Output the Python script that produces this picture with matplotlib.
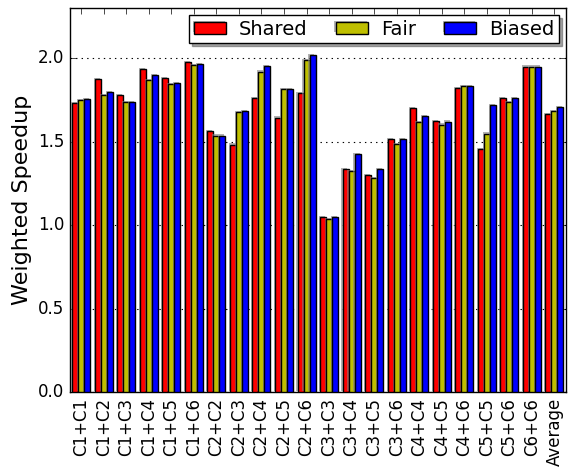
import matplotlib
matplotlib.use("Agg")
import matplotlib.pyplot as plt
import matplotlib.patheffects as pe
import numpy as np

categories = ["C1+C1", "C1+C2", "C1+C3", "C1+C4", "C1+C5", "C1+C6",
              "C2+C2", "C2+C3", "C2+C4", "C2+C5", "C2+C6",
              "C3+C3", "C3+C4", "C3+C5", "C3+C6",
              "C4+C4", "C4+C5", "C4+C6",
              "C5+C5", "C5+C6", "C6+C6", "Average"]
shared = [1.731, 1.877, 1.777, 1.934, 1.883, 1.976, 1.562, 1.482, 1.761, 1.644, 1.789,
          1.048, 1.333, 1.299, 1.516, 1.699, 1.624, 1.821, 1.454, 1.759, 1.949, 1.664]
fair = [1.747, 1.781, 1.739, 1.867, 1.843, 1.958, 1.536, 1.675, 1.919, 1.813, 1.986,
        1.036, 1.323, 1.281, 1.484, 1.618, 1.602, 1.831, 1.548, 1.735, 1.949, 1.681]
biased = [1.757, 1.795, 1.739, 1.901, 1.849, 1.962, 1.536, 1.683, 1.952, 1.817, 2.016,
          1.048, 1.423, 1.337, 1.514, 1.652, 1.620, 1.831, 1.717, 1.763, 1.949, 1.707]
series = [("Shared", shared, "r"), ("Fair", fair, (0.75, 0.75, 0)), ("Biased", biased, "b")]

plt.style.use("classic")
fig = plt.figure(figsize=(5.68, 4.68), dpi=100)
ax = fig.add_axes([0.123, 0.162, 0.873, 0.821])

x = np.arange(len(categories))
w = 0.8 / 3
shadow = [pe.SimplePatchShadow(offset=(-0.8, 0.8), shadow_rgbFace="0.5", alpha=0.6), pe.Normal()]
for i, (name, vals, col) in enumerate(series):
    bars = ax.bar(x - 0.4 + i * w, vals, width=w, align="edge", color=col,
                  edgecolor="black", linewidth=1.0, label=name, zorder=3)
    for b in bars:
        b.set_path_effects(shadow)

ax.set_xlim(-0.5, len(categories) - 0.5)
ax.set_ylim(0, 2.3)
ax.set_yticks([0.0, 0.5, 1.0, 1.5, 2.0])
ax.set_yticklabels(["0.0", "0.5", "1.0", "1.5", "2.0"], fontsize=12)
ax.set_xticks(x)
ax.set_xticklabels(categories, rotation=90, fontsize=12)
ax.yaxis.grid(True, linestyle=":", color="black", linewidth=0.8)
ax.set_axisbelow(True)
ax.set_ylabel("Weighted Speedup", fontsize=16)
ax.yaxis.set_label_coords(-0.077, 0.5)

leg = ax.legend(loc="upper right", ncol=3, fontsize=14, shadow=True,
                handlelength=1.65, handleheight=0.55, columnspacing=1.44,
                borderaxespad=0.35, borderpad=0.25, handletextpad=0.67, fancybox=False)

fig.savefig("out.png", dpi=100)
